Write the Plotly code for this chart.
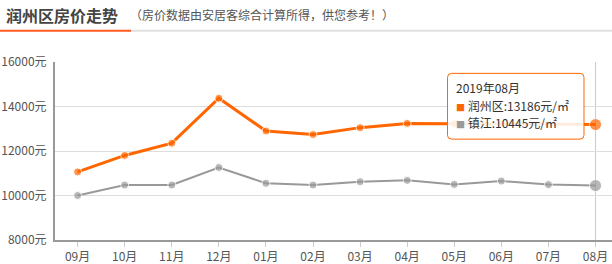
import plotly.graph_objects as go

months = ["09月", "10月", "11月", "12月", "01月", "02月", "03月", "04月", "05月", "06月", "07月", "08月"]
runzhou = [11060, 11800, 12350, 14370, 12900, 12740, 13050, 13240, 13230, 13220, 13200, 13186]
zhenjiang = [10000, 10470, 10470, 11260, 10550, 10470, 10620, 10680, 10500, 10650, 10490, 10445]
y_ticks = [8000, 10000, 12000, 14000, 16000]
y_tick_text = [f"{v}元" for v in y_ticks]

FONT = "Noto Sans CJK SC, Microsoft YaHei, sans-serif"
ORANGE = "#ff6600"
GREY = "#999999"

# pixel geometry helpers (plot area 55..612 x, 62..242 y)
L, R, T, B = 55, 612, 62, 242
def px(x):
    return (x - L) / (R - L)
def py(y):
    return (B - y) / (B - T)

x = list(range(len(months)))
sizes = [8] * (len(months) - 1) + [12]

fig = go.Figure()
fig.add_trace(go.Scatter(
    x=x, y=zhenjiang, mode="lines+markers", name="镇江",
    line=dict(color=GREY, width=2),
    marker=dict(color=GREY, size=sizes, line=dict(color="white", width=1)),
    hoverinfo="skip"))
fig.add_trace(go.Scatter(
    x=x, y=runzhou, mode="lines+markers", name="润州区",
    line=dict(color=ORANGE, width=3),
    marker=dict(color=ORANGE, size=sizes, line=dict(color="white", width=1)),
    hoverinfo="skip"))

shapes = []
# hover vertical line
shapes.append(dict(type="line", xref="x", yref="y", x0=11, x1=11, y0=8000, y1=16000,
                   line=dict(color="#cccccc", width=1), layer="below"))
# header underline
shapes.append(dict(type="line", xref="paper", yref="paper", x0=px(131), x1=px(612),
                   y0=py(30.5), y1=py(30.5), line=dict(color="#e0e0e0", width=2)))
shapes.append(dict(type="line", xref="paper", yref="paper", x0=px(0), x1=px(131),
                   y0=py(30.5), y1=py(30.5), line=dict(color="#ff5a1f", width=2)))

# tooltip box with rounded corners
bx0, bx1, by0, by1 = 447.5, 584, 73.5, 140
r = 4
def P(xx, yy):
    return f"{px(xx):.5f},{py(yy):.5f}"
path = (f"M {P(bx0 + r, by0)} L {P(bx1 - r, by0)} Q {P(bx1, by0)} {P(bx1, by0 + r)} "
        f"L {P(bx1, by1 - r)} Q {P(bx1, by1)} {P(bx1 - r, by1)} "
        f"L {P(bx0 + r, by1)} Q {P(bx0, by1)} {P(bx0, by1 - r)} "
        f"L {P(bx0, by0 + r)} Q {P(bx0, by0)} {P(bx0 + r, by0)} Z")
shapes.append(dict(type="path", xref="paper", yref="paper", path=path,
                   fillcolor="rgba(255,255,255,0.88)", line=dict(color=ORANGE, width=1),
                   layer="above"))

annotations = [
    dict(text="<b>润州区房价走势</b>", xref="paper", yref="paper", x=px(4), y=py(14),
         xanchor="left", yanchor="middle", showarrow=False,
         font=dict(family=FONT, size=16, color="#444444")),
    dict(text="（房价数据由安居客综合计算所得，供您参考！）", xref="paper", yref="paper",
         x=px(128), y=py(14), xanchor="left", yanchor="middle", showarrow=False,
         font=dict(family=FONT, size=12, color="#555555")),
    dict(text="2019年08月", xref="paper", yref="paper", x=px(454), y=py(88),
         xanchor="left", yanchor="middle", showarrow=False,
         font=dict(family=FONT, size=12, color="#333333")),
    dict(text=f"<span style='color:{ORANGE};font-size:9px'>■</span> 润州区:{runzhou[-1]}元/㎡",
         xref="paper", yref="paper", x=px(454), y=py(106),
         xanchor="left", yanchor="middle", showarrow=False,
         font=dict(family=FONT, size=12, color="#333333")),
    dict(text=f"<span style='color:{GREY};font-size:9px'>■</span> 镇江:{zhenjiang[-1]}元/㎡",
         xref="paper", yref="paper", x=px(454), y=py(123),
         xanchor="left", yanchor="middle", showarrow=False,
         font=dict(family=FONT, size=12, color="#333333")),
]

fig.update_layout(
    width=612, height=264,
    margin=dict(l=L, r=612 - R, t=T, b=264 - B),
    paper_bgcolor="white", plot_bgcolor="white",
    showlegend=False,
    shapes=shapes, annotations=annotations,
    font=dict(family=FONT, size=12, color="#555555"),
)
fig.update_xaxes(
    range=[-0.48, 11.35], tickmode="array", tickvals=x, ticktext=months,
    showgrid=False, zeroline=False,
    showline=True, linecolor=GREY, linewidth=2,
    ticks="outside", ticklen=5, tickcolor="#c8ccd6", tickwidth=1,
    tickfont=dict(family=FONT, size=12, color="#555555"),
)
fig.update_yaxes(
    range=[8000, 16000], tickmode="array", tickvals=y_ticks, ticktext=y_tick_text,
    showgrid=True, gridcolor="#dddddd", gridwidth=1, zeroline=False,
    showline=True, linecolor=GREY, linewidth=2,
    ticks="", ticklabelstandoff=4,
    tickfont=dict(family=FONT, size=12, color="#555555"),
)

fig.write_html("out.html")
